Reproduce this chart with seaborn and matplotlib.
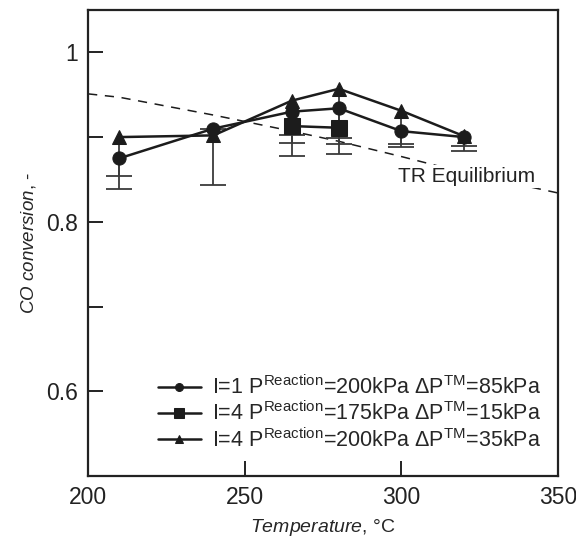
import numpy as np
import pandas as pd
import matplotlib
matplotlib.use("Agg")
import matplotlib.pyplot as plt
import seaborn as sns

# ---- data ----
temp_c = [210, 240, 265, 280, 300, 320]
conv_c = [0.875, 0.910, 0.930, 0.934, 0.907, 0.900]
low_c = [0.854, 0.910, 0.903, 0.899, 0.892, 0.889]

temp_s = [265, 280]
conv_s = [0.913, 0.911]
low_s = [0.893, 0.892]

temp_t = [210, 240, 265, 280, 300, 320]
conv_t = [0.900, 0.902, 0.943, 0.957, 0.931, 0.901]
low_t = [0.839, 0.843, 0.878, 0.880, 0.888, 0.884]

eq_temp = [200, 210, 240, 265, 280, 300, 320, 350]
eq_conv = [0.951, 0.947, 0.926, 0.907, 0.895, 0.877, 0.858, 0.834]

labels = [
    r"I=1 P$^{\mathrm{Reaction}}$=200kPa ΔP$^{\mathrm{TM}}$=85kPa",
    r"I=4 P$^{\mathrm{Reaction}}$=175kPa ΔP$^{\mathrm{TM}}$=15kPa",
    r"I=4 P$^{\mathrm{Reaction}}$=200kPa ΔP$^{\mathrm{TM}}$=35kPa",
]
xticks = [200, 250, 300, 350]
yticks_major = [0.6, 0.8, 1.0]
ytick_labels = ["0.6", "0.8", "1"]

sns.set_style("ticks")
plt.rcParams["font.family"] = ["Liberation Sans", "DejaVu Sans"]
plt.rcParams["mathtext.fontset"] = "custom"
plt.rcParams["mathtext.rm"] = "Liberation Sans"
plt.rcParams["mathtext.it"] = "Liberation Sans:italic"

fig = plt.figure(figsize=(5.76, 5.4), dpi=100)
ax = fig.add_axes([0.153, 0.1185, 0.816, 0.863])

col = "#1c1c1c"
ecol = "#3a3a3a"

series = [
    (temp_c, conv_c, low_c, "o", 9.5, labels[0]),
    (temp_s, conv_s, low_s, "s", 11, labels[1]),
    (temp_t, conv_t, low_t, "^", 10, labels[2]),
]

# error bars (lower only): stem + bottom cap
for t, v, lo, m, ms, lab in series:
    ax.vlines(t, lo, v, color=ecol, linewidth=1.3, zorder=2)
    ax.plot(t, lo, linestyle="none", marker="_", markersize=19,
            markeredgewidth=1.3, color=ecol, zorder=2)

# equilibrium
sns.lineplot(x=eq_temp, y=eq_conv, ax=ax, color=col, linestyle=(0, (6, 5)),
             linewidth=1.1, zorder=1)

for t, v, lo, m, ms, lab in series:
    sns.lineplot(x=t, y=v, ax=ax, color=col, marker=m, markersize=ms,
                 markeredgecolor=col, linewidth=1.8, label=lab, zorder=3)

ax.text(299, 0.853, "TR Equilibrium", fontsize=15, ha="left", va="center",
        color="#222222", zorder=5,
        bbox=dict(facecolor="white", edgecolor="none", pad=1.5))

ax.set_xlim(200, 350)
ax.set_ylim(0.5, 1.05)
ax.set_xticks(xticks)
ax.set_xticklabels([str(x) for x in xticks])
ax.set_yticks(yticks_major)
ax.set_yticklabels(ytick_labels)
ax.set_yticks([0.7, 0.9], minor=True)
ax.tick_params(axis="both", which="both", direction="in", length=11,
               width=1.4, labelsize=16.5, colors="#222222", pad=7)
for s in ax.spines.values():
    s.set_linewidth(1.6)
    s.set_color("#222222")

ax.set_xlabel(r"$\mathit{Temperature}$, °C", fontsize=14, labelpad=6)
ax.set_ylabel(r"$\mathit{CO\ conversion}$, -", fontsize=13.5, labelpad=6)

leg = ax.legend(loc="lower right", bbox_to_anchor=(0.995, 0.02), frameon=False,
                fontsize=15.5, markerscale=0.6, handlelength=2.0,
                handletextpad=0.5, labelspacing=0.12, borderaxespad=0.3)

fig.savefig("out.png", dpi=100)
